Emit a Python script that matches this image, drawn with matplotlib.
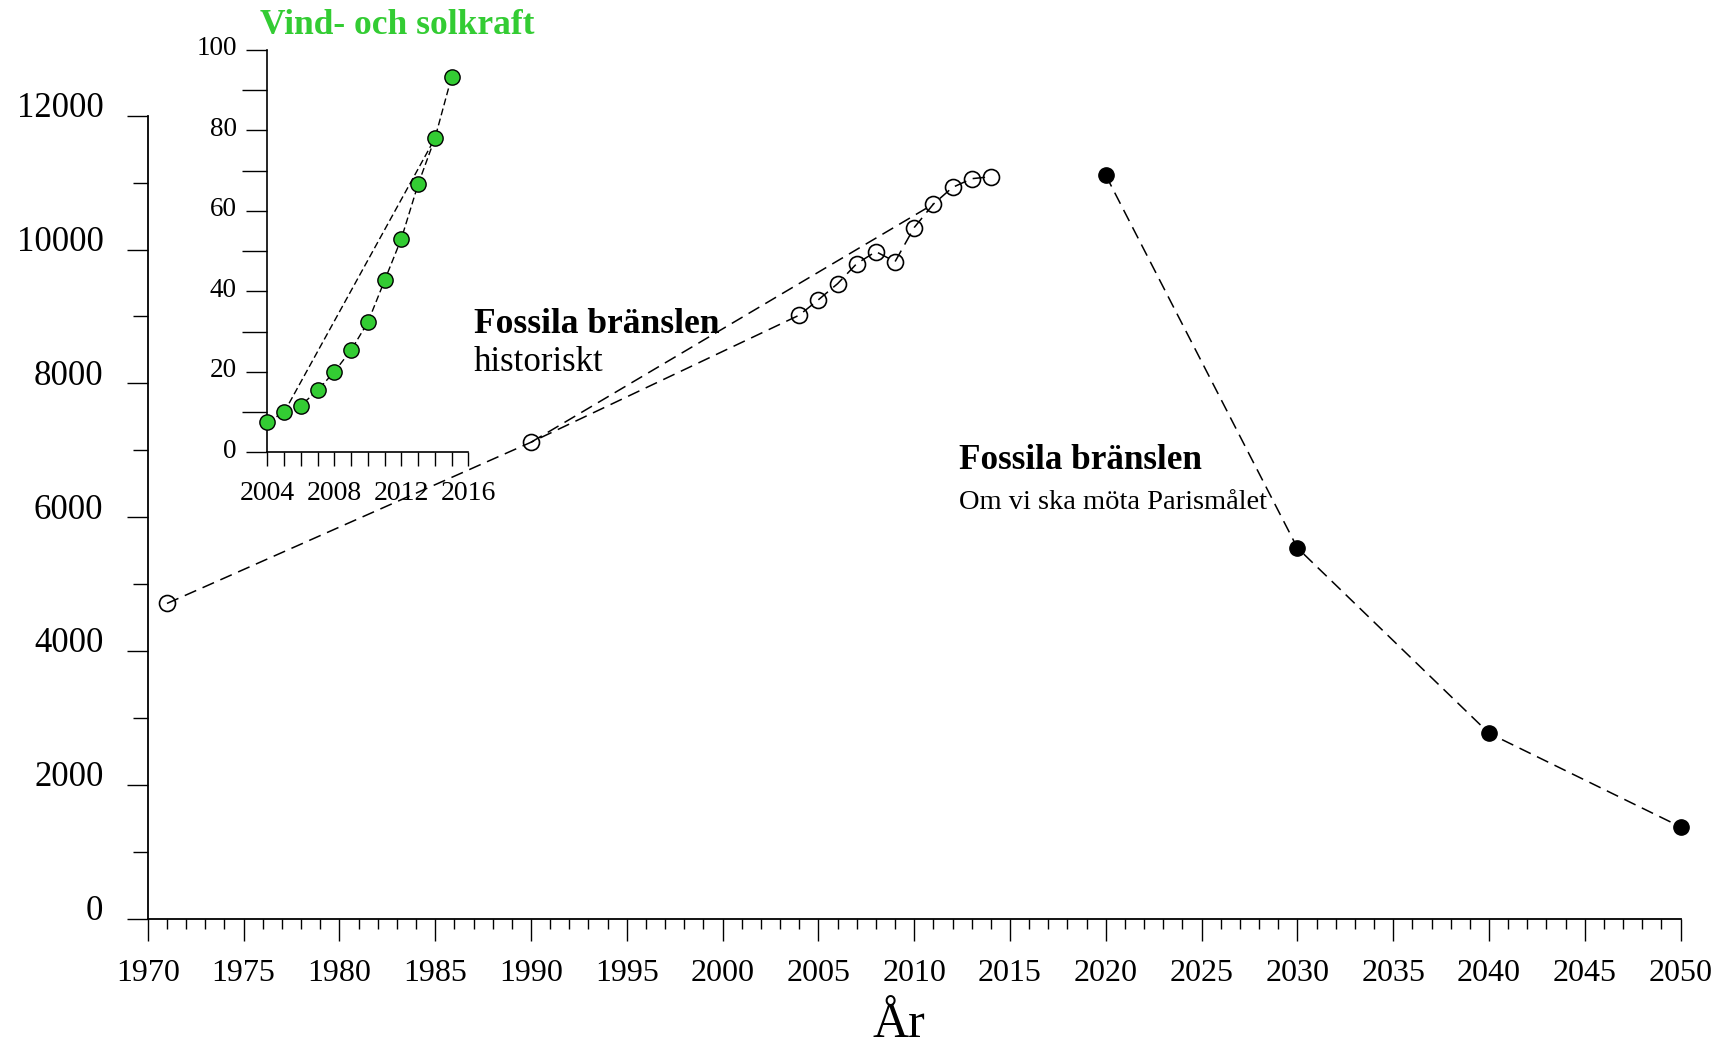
import matplotlib
matplotlib.use("Agg")
import matplotlib.pyplot as plt
from matplotlib.ticker import MultipleLocator
from matplotlib.transforms import ScaledTranslation

plt.rcParams['font.family'] = ['Liberation Serif', 'DejaVu Serif']
plt.rcParams['lines.scale_dashes'] = False

# ---- data ----
hist_years = [1971, 1990, 2004, 2005, 2006, 2007, 2008, 2009, 2010, 2011, 2012, 2013, 2014]
hist_vals = [4710, 7120, 9020, 9250, 9490, 9790, 9970, 9820, 10330, 10680, 10930, 11060, 11090]
paris_years = [2020, 2030, 2040, 2050]
paris_vals = [11110, 5540, 2770, 1370]
ren_years = [2004, 2005, 2006, 2007, 2008, 2009, 2010, 2011, 2012, 2013, 2014, 2015]
ren_vals = [7.6, 9.9, 11.6, 15.4, 20.0, 25.4, 32.3, 42.7, 53.1, 66.6, 78.0, 93.3]
main_xticks = [1970, 1975, 1980, 1985, 1990, 1995, 2000, 2005, 2010, 2015,
               2020, 2025, 2030, 2035, 2040, 2045, 2050]
main_yticks = [0, 2000, 4000, 6000, 8000, 10000, 12000]
inset_xticks = [2004, 2008, 2012, 2016]
inset_yticks = [0, 20, 40, 60, 80, 100]

GREEN = '#33cc33'

fig = plt.figure(figsize=(17.29, 10.52), dpi=100)
ax = fig.add_axes([0.0855, 0.1269, 0.8865, 0.7630])
ax.patch.set_visible(False)

# historical fossil line
ax.plot(hist_years, hist_vals, color='black', lw=1.1, dashes=(9, 5),
        marker='o', ms=11.5, mfc='none', mec='black', mew=1.2, clip_on=False, zorder=3)
# straight connecting line 1990 -> 2011
i0, i1 = hist_years.index(1990), hist_years.index(2011)
ax.plot([hist_years[i0], hist_years[i1]], [hist_vals[i0], hist_vals[i1]],
        color='black', lw=1.1, dashes=(9, 5), zorder=2)
# Paris path
ax.plot(paris_years, paris_vals, color='black', lw=1.1, dashes=(9, 5),
        marker='o', ms=11, mfc='black', mec='black', clip_on=False, zorder=3)

ax.set_xlim(1970, 2050)
ax.set_ylim(0, 12000)
for s in ['top', 'right']:
    ax.spines[s].set_visible(False)
for s in ['left', 'bottom']:
    ax.spines[s].set_linewidth(1.3)
ax.set_xticks(main_xticks)
ax.set_xticklabels([str(t) for t in main_xticks])
ax.xaxis.set_minor_locator(MultipleLocator(1))
ax.set_yticks(main_yticks)
ax.set_yticklabels([str(t) for t in main_yticks])
ax.yaxis.set_minor_locator(MultipleLocator(1000))
ax.tick_params(axis='x', which='major', direction='out', length=15.5, width=1.0,
               labelsize=23, pad=14)
ax.tick_params(axis='x', which='minor', direction='out', length=7, width=1.0)
ax.tick_params(axis='y', which='major', direction='out', length=15, width=1.0,
               labelsize=25, pad=17)
ax.tick_params(axis='y', which='minor', direction='out', length=11, width=1.0)
for lab in ax.get_yticklabels():
    lab.set_transform(lab.get_transform() + ScaledTranslation(0, 8 / 72, fig.dpi_scale_trans))

ax.set_xlabel('År', fontsize=36, va='baseline')
ax.xaxis.set_label_coords(0.49, -0.148)

ax.text(1987.0, 8884, 'Fossila bränslen', fontsize=25.5, fontweight='bold', va='center', ha='left')
ax.text(1987.0, 8307, 'historiskt', fontsize=25, va='center', ha='left')
ax.text(2012.35, 6840, 'Fossila bränslen', fontsize=25.3, fontweight='bold', va='center', ha='left')
ax.text(2012.35, 6214, 'Om vi ska möta Parismålet', fontsize=20.5, va='center', ha='left')

# ---- inset ----
ins = fig.add_axes([0.1546, 0.5701, 0.1163, 0.3824])
ins.patch.set_visible(False)
ins.plot(ren_years, ren_vals, color='black', lw=1.0, dashes=(5, 2.5),
         marker='o', ms=11, mfc=GREEN, mec='black', mew=1.0, clip_on=False, zorder=3)
j0, j1 = ren_years.index(2005), ren_years.index(2014)
ins.plot([ren_years[j0], ren_years[j1]], [ren_vals[j0], ren_vals[j1]],
         color='black', lw=1.0, dashes=(5, 2.5), zorder=2)
ins.set_xlim(2004, 2016)
ins.set_ylim(0, 100)
for s in ['top', 'right']:
    ins.spines[s].set_visible(False)
for s in ['left', 'bottom']:
    ins.spines[s].set_linewidth(1.2)
ins.set_xticks(inset_xticks)
ins.set_xticklabels([str(t) for t in inset_xticks])
ins.xaxis.set_minor_locator(MultipleLocator(1))
ins.set_yticks(inset_yticks)
ins.set_yticklabels([str(t) for t in inset_yticks])
ins.yaxis.set_minor_locator(MultipleLocator(10))
ins.tick_params(axis='x', which='both', direction='out', length=10, width=1.0,
                labelsize=20, pad=11)
ins.tick_params(axis='y', which='major', direction='out', length=15, width=1.0,
                labelsize=19.5, pad=7)
ins.tick_params(axis='y', which='minor', direction='out', length=18, width=1.0)
for lab in ins.get_yticklabels():
    lab.set_transform(lab.get_transform() + ScaledTranslation(0, 3 / 72, fig.dpi_scale_trans))
ins.text(2003.56, 106.2, 'Vind- och solkraft', fontsize=25.5, fontweight='bold',
         color=GREEN, va='center', ha='left')

fig.savefig('out.png', dpi=100)
